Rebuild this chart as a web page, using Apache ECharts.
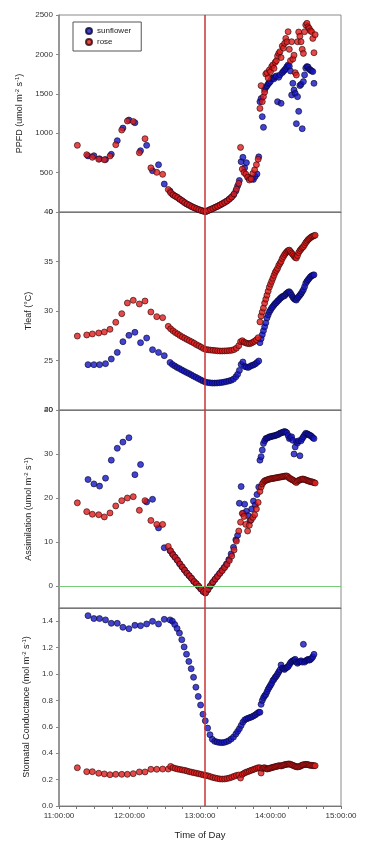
<!DOCTYPE html>
<html><head><meta charset="utf-8">
<script src="https://cdn.jsdelivr.net/npm/echarts@6/dist/echarts.min.js"></script>
<style>html,body{margin:0;padding:0;background:#fff}#c{width:392px;height:855px}</style>
</head><body><div id="c"></div>
<script>
// ---- data (time = minutes after 11:00:00) ----
const xTickLabels = ['11:00:00', '12:00:00', '13:00:00', '14:00:00', '15:00:00'];
const markerTime = 124; // red vertical reference line (~13:04)

const roseTime = [15.6,23.6,28.4,33.8,38.6,43.4,48.3,53.4,58.2,63.2,68.4,73.2,78.2,83.2,88.2,
  93,95,97,99,101,103,105,107,109,111,113,115,117,119,121,123,125,127,129,131,133,135,137,139,141,143,145,147,149,151,
  153,154.5,156,157.5,159,160.5,162,163.5,165,166.5,168,169.5,
  171,172,173,174,175,176,177,178,179,180,181,182,183,184,185,186,187,188,189,190,191,192,193,194,195,196,197,198,199,200,201,202,203,204,205,206,207,208,209,210,211,212,213,214,215,216,217,218];
const rosePPFD = [846,727,694,669,663,710,854,1040,1155,1148,753,930,560,503,478,
  285,245,218,200,183,160,140,118,100,85,68,55,42,30,20,10,5,18,32,45,60,72,88,105,122,140,165,190,230,290,
  364,820,545,500,480,440,406,420,490,535,600,670,
  1315,1603,1400,1464,1520,1751,1768,1700,1802,1780,1845,1866,1823,1900,1920,1980,2013,2034,1960,2106,2080,2140,2203,2160,2288,2064,1921,2161,1942,1990,1768,1738,2161,2284,2230,2161,2064,2013,2288,2373,2394,2350,2330,2300,2288,2203,2021,2250];
const roseTleaf = [27.47,27.58,27.68,27.78,27.88,28.15,28.86,29.73,30.81,31.08,30.71,31.01,29.9,29.43,29.33,
  28.45,28.2,28.0,27.82,27.68,27.52,27.38,27.25,27.12,27.0,26.88,26.75,26.6,26.48,26.35,26.2,26.12,26.08,26.05,26.03,26.0,25.98,25.96,25.96,25.97,25.98,26.0,26.03,26.1,26.25,
  26.5,26.9,27.0,26.85,26.78,26.72,26.7,26.75,26.85,26.95,27.1,27.3,
  28.9,29.5,29.9,30.3,30.8,31.2,31.6,32.0,32.4,32.7,33.0,33.3,33.6,33.9,34.1,34.3,34.6,34.8,35.0,35.3,35.5,35.7,35.85,36.0,36.1,36.15,36.0,35.85,35.7,35.55,35.4,35.35,35.6,35.9,36.1,36.25,36.4,36.5,36.7,36.9,37.05,37.2,37.3,37.4,37.5,37.55,37.6,37.65];
const roseA = [18.9,16.9,16.3,16.2,15.7,16.6,18.2,19.4,20.0,20.3,17.2,19.4,14.9,14.0,14.0,
  9.0,8.0,7.1,6.5,5.8,5.0,4.3,3.6,2.9,2.3,1.7,1.0,0.5,-0.1,-0.7,-1.3,-1.5,-0.7,0.1,0.9,1.6,2.2,2.9,3.5,4.2,4.9,5.8,6.8,8.2,10.2,
  12.5,14.5,16.5,15.8,14.0,12.5,13.8,15.0,15.6,16.2,17.5,19.0,
  21.5,22.5,23.2,23.6,23.9,24.0,24.1,24.2,24.3,24.35,24.4,24.45,24.5,24.55,24.6,24.65,24.7,24.75,24.8,24.85,24.9,24.95,25.0,25.0,24.8,24.5,24.4,24.2,24.1,23.9,23.7,23.5,23.8,24.0,24.1,24.2,24.3,24.3,24.2,24.1,24.0,23.9,23.8,23.7,23.7,23.6,23.5,23.4];
const roseGs = [0.29,0.26,0.26,0.248,0.243,0.237,0.24,0.24,0.24,0.245,0.258,0.258,0.278,0.278,0.28,
  0.28,0.30,0.29,0.285,0.28,0.277,0.273,0.27,0.265,0.26,0.256,0.252,0.248,0.244,0.24,0.235,0.232,0.228,0.222,0.216,0.212,0.208,0.205,0.204,0.205,0.208,0.212,0.218,0.225,0.232,
  0.235,0.212,0.24,0.248,0.255,0.26,0.265,0.27,0.275,0.28,0.285,0.29,
  0.29,0.25,0.285,0.288,0.29,0.285,0.28,0.282,0.285,0.288,0.29,0.293,0.295,0.298,0.30,0.302,0.305,0.305,0.303,0.306,0.31,0.312,0.315,0.316,0.318,0.318,0.316,0.312,0.308,0.305,0.30,0.298,0.296,0.298,0.30,0.305,0.31,0.312,0.314,0.315,0.315,0.313,0.31,0.308,0.308,0.306,0.305,0.305];

const sunTime = [24.7,29.7,34.5,39.6,44.5,49.6,54.4,59.5,64.6,69.4,74.6,79.6,84.7,89.6,
  94.5,96.5,98.5,100.5,102.5,104.5,106.5,108.5,110.5,112.5,114.5,116.5,118.5,120.5,122.5,124.5,126.5,128.5,130.5,132.5,134.5,136.5,138.5,140.5,142.5,144.5,146.5,148.5,150.5,
  152,153.5,155,156.5,158,159.5,161,162.5,164,165.5,167,168.5,170,
  171,172,173,174,175,176,177,178,179,180,181,182,183,184,185,186,187,188,189,190,191,192,193,194,195,196,197,198,199,200,201,202,203,204,205,206,207,208,209,210,211,212,213,214,215,216,217];
const sunPPFD = [712,714,675,665,732,905,1065,1167,1133,778,846,524,600,355,
  265,225,205,188,165,145,124,104,88,72,58,45,33,22,12,5,15,30,42,56,70,85,100,118,135,158,183,215,265,
  330,400,639,694,560,626,440,430,420,414,450,482,700,
  1400,1440,1210,1074,1553,1580,1600,1625,1640,1659,1693,1700,1690,1715,1726,1400,1710,1740,1379,1768,1785,1802,1820,1845,1866,1850,1790,1485,1633,1548,1506,1121,1464,1277,1604,1620,1057,1655,1740,1826,1845,1840,1810,1803,1790,1782,1633];
const sunTleaf = [24.58,24.58,24.58,24.68,25.15,25.82,26.9,27.54,27.85,26.8,27.27,26.09,25.82,25.49,
  24.8,24.6,24.45,24.3,24.18,24.05,23.92,23.8,23.68,23.55,23.42,23.3,23.17,23.05,22.93,22.83,22.77,22.74,22.72,22.72,22.73,22.75,22.78,22.82,22.87,22.93,23.0,23.12,23.35,
  23.6,24.0,24.6,24.85,24.4,24.35,24.3,24.4,24.5,24.55,24.65,24.8,24.95,
  26.8,27.2,27.6,28.0,28.4,28.8,29.3,29.6,29.9,30.1,30.3,30.45,30.6,30.75,30.85,31.0,31.1,31.25,31.35,31.45,31.5,31.55,31.7,31.8,31.9,31.95,31.8,31.6,31.4,31.25,31.15,31.1,31.3,31.45,31.6,31.75,31.95,32.15,32.45,32.8,33.0,33.15,33.3,33.45,33.55,33.62,33.65];
const sunA = [24.2,23.2,22.7,24.5,28.6,31.3,32.7,33.7,25.3,27.6,19.1,19.7,13.2,8.7,
  8.0,7.3,6.6,5.9,5.1,4.4,3.7,3.0,2.4,1.8,1.1,0.6,0.0,-0.6,-1.2,-1.6,-0.9,-0.1,0.7,1.4,2.1,2.8,3.5,4.2,5.0,6.0,7.3,8.8,10.5,
  11.5,18.8,22.6,16.5,18.6,17.0,16.0,14.8,17.5,19.3,18.4,20.8,22.5,
  28.6,29.4,30.9,32.4,33.0,33.5,33.6,33.7,33.9,33.9,34.0,34.1,34.1,34.2,34.3,34.4,34.5,34.7,34.8,34.9,35.0,35.1,35.0,34.8,34.2,33.5,33.7,33.9,33.1,30.0,31.6,32.8,32.5,33.0,29.6,33.0,33.5,33.9,34.3,34.7,34.6,34.5,34.3,34.2,34.0,33.7,33.5];
const sunGs = [1.442,1.42,1.42,1.41,1.384,1.384,1.354,1.343,1.369,1.366,1.379,1.399,1.379,1.414,
  1.41,1.40,1.375,1.345,1.31,1.26,1.205,1.15,1.095,1.04,0.975,0.90,0.83,0.765,0.695,0.645,0.59,0.54,0.505,0.49,0.485,0.481,0.48,0.482,0.487,0.495,0.507,0.522,0.545,
  0.565,0.585,0.61,0.635,0.652,0.66,0.665,0.67,0.675,0.682,0.69,0.70,0.71,
  0.71,0.77,0.80,0.82,0.835,0.845,0.865,0.885,0.90,0.915,0.93,0.95,0.96,0.975,0.985,1.0,1.015,1.03,1.068,1.045,1.04,1.035,1.045,1.05,1.056,1.07,1.085,1.094,1.10,1.105,1.111,1.09,1.081,1.09,1.094,1.10,1.09,1.225,1.09,1.10,1.105,1.111,1.105,1.11,1.119,1.13,1.149];

const ppfdTicks = [0, 500, 1000, 1500, 2000, 2500];
const tleafTicks = [20, 25, 30, 35, 40];
const assimTicks = [0, 10, 20, 30, 40];
const gsTicks = [0, 0.2, 0.4, 0.6, 0.8, 1.0, 1.2, 1.4];

// ---- chart ----
const FONT = '"Liberation Sans", Arial, sans-serif';
const zip = (t, v) => t.map((x, i) => [x, v[i]]);
const chart = echarts.init(document.getElementById('c'), null, {renderer: 'canvas'});

const tops = [15, 212, 410, 608];
const heights = [197, 198, 198, 198];
const grid = tops.map((top, i) => ({left: 59, right: 51, top: top, height: heights[i], show: true,
  borderColor: '#8a8a8a', borderWidth: 1, backgroundColor: 'transparent'}));

const xAxis = [0, 1, 2, 3].map(i => ({
  type: 'value', gridIndex: i, min: 0, max: 240, interval: 60,
  axisLine: {show: true, onZero: false, lineStyle: {color: '#777', width: 1}},
  axisTick: {show: i === 3, length: 3, lineStyle: {color: '#777'}},
  minorTick: {show: i === 3, splitNumber: 4, length: 3, lineStyle: {color: '#777'}},
  axisLabel: {show: i === 3, formatter: v => xTickLabels[Math.round(v / 60)] || '', fontSize: 8, color: '#333', fontFamily: FONT, margin: 6},
  splitLine: {show: false},
  name: i === 3 ? 'Time of Day' : '', nameLocation: 'middle', nameGap: 24,
  nameTextStyle: {fontSize: 9.5, color: '#222', fontFamily: FONT}
}));

const supRich = {s: {fontSize: 6, fontFamily: FONT, color: '#222', verticalAlign: 'bottom', padding: [0, 0, 5, 0]}};
function yAx(i, min, max, ticks, name, gap, fmt) {
  return {
    type: 'value', gridIndex: i, min: min, max: max,
    axisLine: {show: true, onZero: false, lineStyle: {color: '#888', width: 1.5}},
    axisTick: {show: true, length: 3, customValues: ticks, lineStyle: {color: '#888'}},
    axisLabel: {customValues: ticks, fontSize: 8, color: '#333', fontFamily: FONT, margin: 6, formatter: fmt || (v => String(v))},
    splitLine: {show: false},
    name: name, nameLocation: 'middle', nameGap: gap,
    nameTextStyle: {fontSize: 9, color: '#222', fontFamily: FONT, rich: supRich}
  };
}
const yAxis = [
  yAx(0, 0, 2500, ppfdTicks, 'PPFD (umol m{s|-2} s{s|-1})', 32),
  yAx(1, 20, 40, tleafTicks, 'Tleaf (°C)', 22),
  yAx(2, -5, 40, assimTicks, 'Assimilation (umol m{s|-2} s{s|-1})', 23),
  yAx(3, 0, 1.5, gsTicks, 'Stomatal Conductance (mol m{s|-2} s{s|-1})', 24, v => v.toFixed(1))
];

const sunStyle = {color: '#1414c6', borderColor: '#06062e', borderWidth: 0.8};
const roseStyle = {color: '#e01c1c', borderColor: '#300404', borderWidth: 0.8};
const sunSets = [sunPPFD, sunTleaf, sunA, sunGs];
const roseSets = [rosePPFD, roseTleaf, roseA, roseGs];
const series = [];
for (let i = 0; i < 4; i++) {
  const s = {type: 'scatter', name: 'sunflower', xAxisIndex: i, yAxisIndex: i, data: zip(sunTime, sunSets[i]),
    symbol: 'circle', symbolSize: 6, itemStyle: sunStyle, emphasis: {disabled: true}};
  if (i === 2) {
    s.markLine = {silent: true, symbol: ['none', 'none'], label: {show: false}, animation: false,
      lineStyle: {color: '#77cc77', width: 1, type: 'solid'}, data: [{yAxis: 0}]};
  }
  series.push(s);
  series.push({type: 'scatter', name: 'rose', xAxisIndex: i, yAxisIndex: i, data: zip(roseTime, roseSets[i]),
    symbol: 'circle', symbolSize: 6, itemStyle: roseStyle, emphasis: {disabled: true},
    markLine: {silent: true, symbol: ['none', 'none'], label: {show: false}, animation: false,
      lineStyle: {color: '#cc3333', width: 1.5, type: 'solid'}, data: [{xAxis: markerTime}]}});
}

chart.setOption({
  animation: false,
  backgroundColor: '#fff',
  grid: grid, xAxis: xAxis, yAxis: yAxis, series: series,
  legend: {orient: 'vertical', left: 73, top: 22, data: ['sunflower', 'rose'], icon: 'circle',
    itemWidth: 6, itemHeight: 6, itemGap: 3, borderColor: '#555', borderWidth: 1, borderRadius: 0,
    padding: [5, 10, 5, 12], selectedMode: false,
    textStyle: {fontSize: 8, color: '#222', fontFamily: FONT}}
});
</script>
</body></html>
